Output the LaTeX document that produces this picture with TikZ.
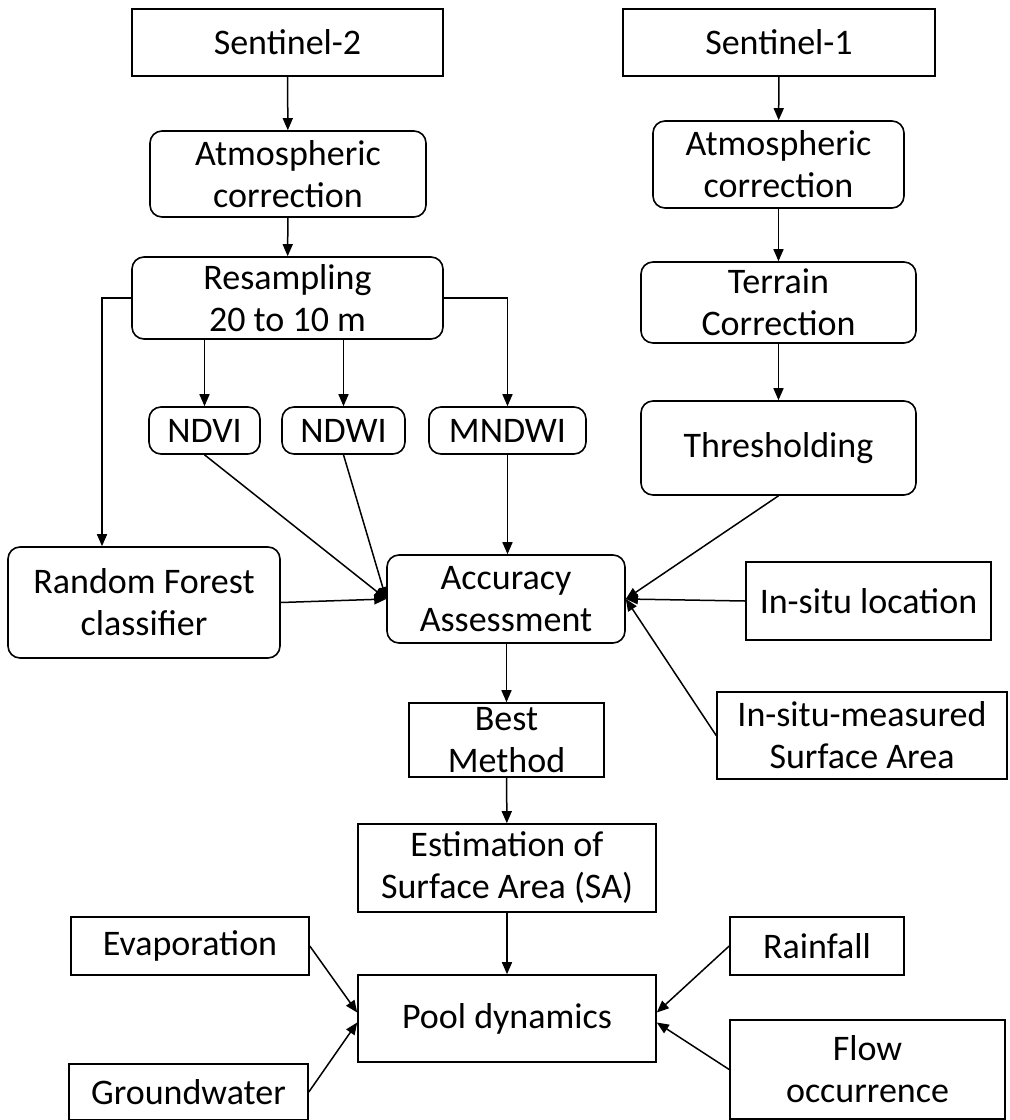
\documentclass[tikz,border=0pt]{standalone}
\usepackage{fontspec}
\setmainfont{Carlito}
\usetikzlibrary{arrows.meta}

\begin{document}
\begin{tikzpicture}[x=0.5pt,y=-0.5pt]
\tikzstyle{box}=[draw,line width=0.8pt,inner sep=0pt,align=center,font=\fontsize{18}{21}\selectfont]
\tikzstyle{rbox}=[box,rounded corners=6pt]
\tikzstyle{arr}=[line width=0.75pt,-{Triangle[length=6pt,width=5pt]}]
\useasboundingbox (0,0) rectangle (1009,1120);
\node [box,minimum width=155.5pt,minimum height=33.5pt] (s2) at (287.5,42.5) {Sentinel-2};
\node [box,minimum width=156pt,minimum height=33.5pt] (s1) at (779,42.5) {Sentinel-1};
\node [rbox,minimum width=138pt,minimum height=43pt] (atm2) at (288,174) {Atmospheric\\correction};
\node [rbox,minimum width=125.5pt,minimum height=43.5pt] (atm1) at (778.5,164.5) {Atmospheric\\correction};
\node [rbox,minimum width=155.5pt,minimum height=41pt] (resamp) at (287.5,298) {Resampling\\20 to 10 m};
\node [rbox,minimum width=137.5pt,minimum height=40.5pt] (terrain) at (778.5,302.5) {Terrain\\Correction};
\node [rbox,minimum width=137.5pt,minimum height=47pt] (thresh) at (778.5,448) {Thresholding};
\node [rbox,minimum width=55.5pt,minimum height=23.5pt] (ndvi) at (204.5,430.5) {NDVI};
\node [rbox,minimum width=61.5pt,minimum height=23.5pt] (ndwi) at (343.5,430.5) {NDWI};
\node [rbox,minimum width=78.5pt,minimum height=23.5pt] (mndwi) at (507.5,430.5) {MNDWI};
\node [rbox,minimum width=136pt,minimum height=55.5pt] (rf) at (144,602.5) {Random Forest\\classifier};
\node [rbox,minimum width=119pt,minimum height=44pt] (acc) at (506,599) {Accuracy\\Assessment};
\node [box,minimum width=122.5pt,minimum height=39pt] (insitu) at (868.5,601) {In-situ location};
\node [box,minimum width=145pt,minimum height=43.5pt] (measured) at (862,735.5) {In-situ-measured\\Surface Area};
\node [box,minimum width=97.5pt,minimum height=37pt] (best) at (506.5,740) {Best\\Method};
\node [box,minimum width=149pt,minimum height=44pt] (est) at (507,868) {Estimation of\\Surface Area (SA)};
\node [box,minimum width=149pt,minimum height=43.5pt] (pool) at (507,1018.5) {Pool dynamics};
\node [box,minimum width=119pt,minimum height=29pt] (evap) at (190,946) {Evaporation};
\node [box,minimum width=119.5pt,minimum height=28pt] (ground) at (188.5,1092) {Groundwater};
\node [box,minimum width=87pt,minimum height=29pt] (rain) at (817,946) {Rainfall};
\node [box,minimum width=137.5pt,minimum height=49.5pt] (flow) at (867.5,1069.5) {Flow\\occurrence};
\draw [arr] (s2) -- (atm2);
\draw [arr] (atm2) -- (resamp);
\draw [arr] (s1) -- (atm1);
\draw [arr] (atm1) -- (terrain);
\draw [arr] (terrain) -- (thresh);
\draw [arr] (resamp.south -| ndvi) -- (ndvi.north);
\draw [arr] (resamp.south -| ndwi) -- (ndwi.north);
\draw [arr] (resamp.east) -| (mndwi.north);
\draw [arr] (resamp.west) -| ([xshift=-21pt]rf.north);
\draw [arr] (ndvi.south) -- (acc.west);
\draw [arr] (ndwi.south) -- (acc.west);
\draw [arr] (rf.east) -- (acc.west);
\draw [arr] (mndwi.south) -- (mndwi.south |- acc.north);
\draw [arr] (thresh.south) -- (acc.east);
\draw [arr] (insitu.west) -- (acc.east);
\draw [arr] (measured.west) -- (acc.east);
\draw [arr] (acc.south -| best) -- (best.north);
\draw [arr] (best) -- (est);
\draw [arr] (est) -- (pool);
\draw [arr] (evap.east) -- ([yshift=3pt]pool.west);
\draw [arr] (ground.east) -- ([yshift=-2pt]pool.west);
\draw [arr] (rain.west) -- ([yshift=3pt]pool.east);
\draw [arr] (flow.west) -- ([yshift=-2pt]pool.east);
\end{tikzpicture}
\end{document}
